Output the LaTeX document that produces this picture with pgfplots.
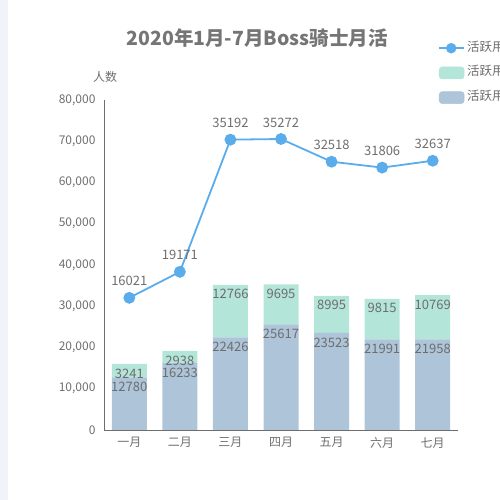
\documentclass[border=0pt]{standalone}
\usepackage{pgfplots}
\pgfplotsset{compat=1.18}
\usepackage{fontspec}
\setmainfont{Noto Sans CJK SC}

\definecolor{stripgray}{HTML}{F2F3F8}
\definecolor{titlegray}{HTML}{757575}
\definecolor{textgray}{HTML}{6E6E6E}
\definecolor{axisgray}{HTML}{6E6E6E}
\definecolor{linec}{HTML}{5AADEA}
\definecolor{mintc}{HTML}{B3E5D8}
\definecolor{bluec}{HTML}{AEC4D9}

% stacked labels sit at the middle of a segment: move them to just under its top
% (half of 330pt/80000 per unit = 135.168sp, done in \numexpr since pgfmath overflows)
\pgfplotsset{seglabel/.style={
    point meta=explicit symbolic, nodes near coords={\pgfplotspointmeta},
    every node near coord/.append style={anchor=center,
        yshift={\the\dimexpr\numexpr\pgfplotspointmeta*135168/1000\relax sp-9.5pt\relax},
        text=textgray, font=\fontsize{13}{15}\selectfont}}}

\begin{document}
\begin{tikzpicture}
\path[use as bounding box, clip] (0pt,0pt) rectangle (500pt,500pt);
\fill[stripgray] (0pt,0pt) rectangle (8pt,500pt);
\node[font=\bfseries\fontsize{19.5}{22}\selectfont, text=titlegray] at (257pt,462pt) {2020年1月-7月Boss骑士月活};
\node[font=\fontsize{12}{14}\selectfont, text=textgray] at (105pt,423pt) {人数};

% bars, left axis
\begin{axis}[
    at={(104pt,70pt)}, anchor=south west,
    scale only axis, width=354pt, height=330pt,
    xmin=-0.5, xmax=6.5, ymin=0, ymax=80000,
    xtick={0,1,2,3,4,5,6},
    xticklabels={一月,二月,三月,四月,五月,六月,七月},
    ytick={0,10000,20000,30000,40000,50000,60000,70000,80000},
    scaled y ticks=false,
    /pgf/number format/assume math mode=true,
    yticklabel style={/pgf/number format/fixed, /pgf/number format/1000 sep={,}, anchor=east, xshift=-5pt},
    xticklabel style={anchor=center, yshift=-12.7pt},
    tick label style={font=\fontsize{12}{14}\selectfont, text=textgray},
    major tick length=0pt,
    axis x line*=bottom, axis y line*=left,
    axis line style={draw=axisgray, line width=0.8pt},
    ybar stacked, bar width=35pt,
    clip=false,
    legend style={at={(0.9435,1.1818)}, anchor=north west, draw=none, fill=none,
        inner sep=0pt, row sep=8.7pt, column sep=0pt,
        font=\fontsize{12.5}{14}\selectfont, text=textgray,
        nodes={inner sep=2pt, text height=9pt, text depth=3pt}},
    legend cell align=left,
]
\addplot[fill=bluec, draw=none, forget plot, seglabel]
    coordinates {(0,12780)[12780] (1,16233)[16233] (2,22426)[22426] (3,25617)[25617] (4,23523)[23523] (5,21991)[21991] (6,21958)[21958]};
\addplot[fill=mintc, draw=none, forget plot, seglabel]
    coordinates {(0,3241)[3241] (1,2938)[2938] (2,12766)[12766] (3,9695)[9695] (4,8995)[8995] (5,9815)[9815] (6,10769)[10769]};

\addlegendimage{legend image code/.code={
    \draw[linec, line width=2pt] (0pt,0pt) -- (25pt,0pt);
    \fill[linec] (12pt,0pt) circle (5pt);}}
\addlegendentry{活跃用户总数}
\addlegendimage{legend image code/.code={
    \fill[mintc, rounded corners=3pt] (0pt,-6pt) rectangle (25pt,6pt);}}
\addlegendentry{活跃用户新增}
\addlegendimage{legend image code/.code={
    \fill[bluec, rounded corners=3pt] (0pt,-6pt) rectangle (25pt,6pt);}}
\addlegendentry{活跃用户留存}
\end{axis}

% line, hidden right axis
\begin{axis}[
    at={(104pt,70pt)}, anchor=south west,
    scale only axis, width=354pt, height=330pt,
    xmin=-0.5, xmax=6.5, ymin=0, ymax=40000,
    hide axis, clip=false,
]
\addplot[linec, line width=1.8pt, mark=*, mark size=5pt,
    mark options={fill=linec, draw=linec},
    point meta=explicit symbolic, nodes near coords={\pgfplotspointmeta},
    every node near coord/.append style={anchor=center, yshift=16.6pt, text=textgray, font=\fontsize{13}{15}\selectfont}]
    coordinates {(0,16021)[16021] (1,19171)[19171] (2,35192)[35192] (3,35272)[35272] (4,32518)[32518] (5,31806)[31806] (6,32637)[32637]};
\end{axis}
\end{tikzpicture}
\end{document}
